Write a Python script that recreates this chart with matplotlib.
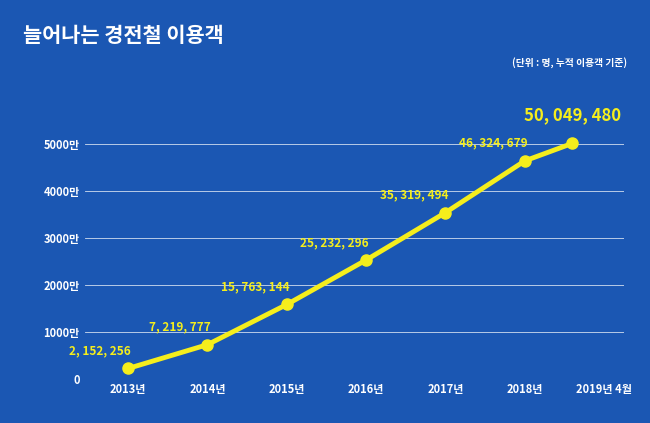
import matplotlib
matplotlib.use("Agg")
import matplotlib.pyplot as plt
from matplotlib import font_manager

names = {f.name for f in font_manager.fontManager.ttflist}
fam = [n for n in ["Noto Sans CJK KR", "Noto Sans CJK JP", "Noto Sans CJK SC"] if n in names]
plt.rcParams["font.family"] = fam + ["DejaVu Sans"]

categories = ["2013년", "2014년", "2015년", "2016년", "2017년", "2018년", "2019년 4월"]
x_pos = [0, 1, 2, 3, 4, 5, 5.6]
values = [2152256, 7219777, 15763144, 25232296, 35319494, 46324679, 50049480]
yticks = [0, 10000000, 20000000, 30000000, 40000000, 50000000]
ytick_labels = ["0", "1000만", "2000만", "3000만", "4000만", "5000만"]

bg = "#1b57b3"
yellow = "#f5ee1c"

fig = plt.figure(figsize=(6.5, 4.23), dpi=100, facecolor=bg)
ax = fig.add_axes([0.13, 0.105, 0.83, 0.6], facecolor=bg)

ax.plot(x_pos, values, color=yellow, lw=3.5, marker="o", ms=8, zorder=3)
for i, (x, v) in enumerate(zip(x_pos, values)):
    big = i == len(values) - 1
    txt = f"{v:,}".replace(",", ", ")
    if big:
        ax.annotate(txt, (x, v), xytext=(0, 14), textcoords="offset points",
                    ha="center", va="bottom", color=yellow, fontsize=12, fontweight="bold")
    else:
        ax.annotate(txt, (x, v), xytext=(2, 8), textcoords="offset points",
                    ha="right", va="bottom", color=yellow, fontsize=8.5, fontweight="bold")

ax.set_xlim(-0.55, 6.25)
ax.set_ylim(0, 54000000)
ax.set_yticks(yticks)
ax.set_yticklabels(ytick_labels)
ax.set_xticks(range(len(categories)))
ax.set_xticklabels(categories)
ax.tick_params(colors="white", labelsize=8, length=0)
for t in ax.get_xticklabels() + ax.get_yticklabels():
    t.set_fontweight("bold")
ax.grid(axis="y", color="white", lw=0.6, alpha=0.8)
for s in ax.spines.values():
    s.set_visible(False)

fig.text(0.035, 0.9, "늘어나는 경전철 이용객", color="white", fontsize=15, fontweight="bold")
fig.text(0.965, 0.845, "(단위 : 명, 누적 이용객 기준)", color="white", fontsize=7, ha="right", fontweight="bold")

fig.savefig("out.png", dpi=100, facecolor=bg)
